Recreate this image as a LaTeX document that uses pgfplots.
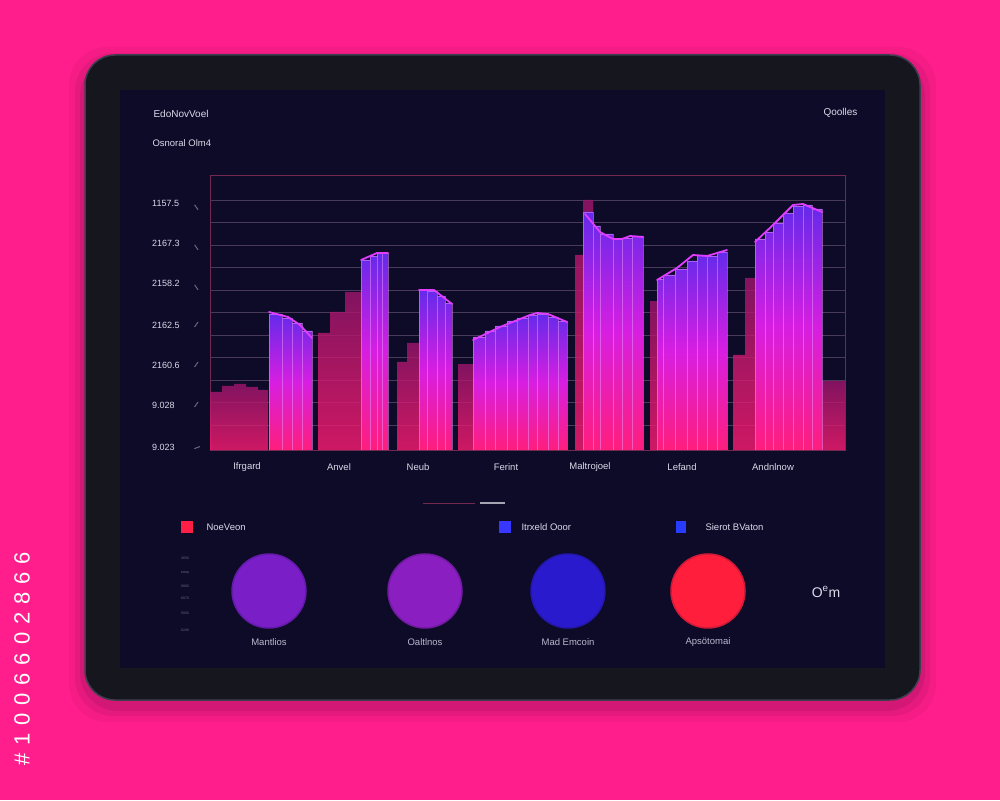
\documentclass[border=0pt]{standalone}
\usepackage{pgfplots}
\pgfplotsset{compat=1.18}
\usepackage{fontspec}
\setmainfont{Liberation Sans}
\usepackage{graphicx}

\definecolor{bgpink}{RGB}{255,30,140}
\definecolor{bezel}{RGB}{22,22,30}
\definecolor{bezeledge}{RGB}{62,62,78}
\definecolor{screen}{RGB}{13,11,40}
\definecolor{txt}{RGB}{218,218,234}
\definecolor{sub}{RGB}{185,185,205}
\definecolor{slash}{RGB}{105,105,130}
\definecolor{gridc}{RGB}{72,58,88}
\definecolor{framec}{RGB}{115,40,80}
\definecolor{barTop}{RGB}{100,42,235}
\definecolor{barMid}{RGB}{215,30,225}
\definecolor{barBot}{RGB}{255,30,125}
\definecolor{glowBot}{RGB}{255,28,115}
\definecolor{glowTop}{RGB}{160,22,110}
\definecolor{stripe}{RGB}{235,150,255}
\definecolor{edge}{RGB}{225,60,255}
\definecolor{legred}{RGB}{255,30,70}
\definecolor{legblue}{RGB}{55,55,255}
\definecolor{legblueb}{RGB}{40,60,255}
\definecolor{cA}{RGB}{122,30,200}
\definecolor{cB}{RGB}{138,30,192}
\definecolor{cC}{RGB}{42,26,205}
\definecolor{cD}{RGB}{255,30,60}

\newcommand{\yl}[2]{\makebox[42pt][l]{#1}\raisebox{1pt}{\textcolor{slash}{\rotatebox{#2}{\rule{6pt}{1pt}}}}}

\pgfplotsset{
  mainbar/.style={ybar interval, draw=stripe, draw opacity=0.5, line width=0.6pt,
    top color=barTop, bottom color=barBot, middle color=barMid},
  glowbar/.style={ybar interval, draw=none, top color=glowTop, bottom color=glowBot, fill opacity=0.8},
  topedge/.style={edge, line width=1.8pt, line join=round, line cap=round},
  dot/.style={only marks, mark=*, mark size=37pt, mark options={fill=#1, draw=#1!80!screen, line width=1.5pt}},
}

\begin{document}
\begin{tikzpicture}[x=1pt,y=1pt]
\useasboundingbox (0,0) rectangle (1000,800);
\clip (0,0) rectangle (1000,800);
\fill[bgpink] (0,0) rectangle (1000,800);

% tablet shadow and body
\foreach \d/\o in {16/0.04,10/0.06,5/0.08}
  \fill[black, opacity=\o, rounded corners=38] (85-\d,94-\d) rectangle (920+\d,745+\d-8);
\fill[bezel, draw=bezeledge, line width=1.5pt, rounded corners=30] (85,100) rectangle (920,745);
\fill[screen] (120,132) rectangle (885,710);

% header texts
\node[anchor=west, text=txt, font=\fontsize{10}{12}\selectfont] at (150,686) {EdoNovVoel};
\node[anchor=west, text=txt, font=\fontsize{9.5}{11}\selectfont] at (149,657) {Osnoral Olm4};
\node[anchor=east, text=txt, font=\fontsize{10}{12}\selectfont] at (861,687) {Qoolles};

% main chart
\begin{axis}[
  at={(210pt,350pt)}, anchor=south west,
  scale only axis, width=635pt, height=275pt,
  xmin=0, xmax=635, ymin=0, ymax=275,
  axis line style={framec, line width=0.7pt},
  tick style={draw=none},
  xtick={37,129,208,296,380,472,563},
  xticklabels={Ifrgard,Anvel,Neub,Ferint,Maltrojoel,Lefand,Andnlnow},
  ytick={3,45,85,125,165,205,245},
  yticklabels={\yl{9.023}{20},\yl{9.028}{55},\yl{2160.6}{55},\yl{2162.5}{55},\yl{2158.2}{-55},\yl{2167.3}{-55},\yl{1157.5}{-55}},
  ticklabel style={text=txt, font=\fontsize{9.5}{11}\selectfont},
  xticklabel style={anchor=center, yshift=-17pt},
  yticklabel style={anchor=west, inner sep=0pt, xshift=-58pt, font=\fontsize{9}{10}\selectfont},
  extra y ticks={25,47.5,70,92.5,115,137.5,160,182.5,205,227.5,250},
  extra y tick labels={},
  extra y tick style={grid=major, major grid style={gridc, line width=0.6pt}},
]
% glow (background) bars
\addplot[glowbar] coordinates {(0,58) (12,64) (24,66) (36,63) (48,60) (58,0)};
\addplot[glowbar] coordinates {(108,117) (120,138) (135,158) (151,0)};
\addplot[glowbar] coordinates {(187,88) (197,107) (209,0)};
\addplot[glowbar] coordinates {(248,85) (263,0)};
\addplot[glowbar] coordinates {(365,195) (373,250) (383,0)};
\addplot[glowbar] coordinates {(440,148) (447,0)};
\addplot[glowbar] coordinates {(523,95) (535,172) (545,0)};
\addplot[glowbar] coordinates {(612,68) (635,0)};
% main bars
\addplot[mainbar] coordinates {(59,136) (72,132) (82,127) (92,119) (102,0)};
\addplot[mainbar] coordinates {(151,190) (160,194) (167,197) (172,197) (178,0)};
\addplot[mainbar] coordinates {(209,160) (217,159) (227,154) (235,147) (242,0)};
\addplot[mainbar] coordinates {(263,113) (275,119) (285,124) (297,129) (307,132) (318,135) (327,136) (338,133) (348,129) (357,0)};
\addplot[mainbar] coordinates {(373,238) (383,224) (390,216) (403,211) (412,212) (422,214) (433,0)};
\addplot[mainbar] coordinates {(447,171) (453,175) (465,181) (477,189) (487,195) (497,194) (507,198) (517,0)};
\addplot[mainbar] coordinates {(545,211) (555,218) (563,227) (573,237) (583,244) (593,245) (602,241) (612,0)};
% top edges
\addplot[topedge] coordinates {(59,138) (78,133) (90,125) (102,112)};
\addplot[topedge] coordinates {(151,190) (167,197) (178,197)};
\addplot[topedge] coordinates {(209,160) (224,160) (242,146)};
\addplot[topedge] coordinates {(263,110) (290,123) (320,135) (327,137) (338,136) (357,128)};
\addplot[topedge] coordinates {(375,236) (390,218) (403,211) (412,211) (420,214) (433,213)};
\addplot[topedge] coordinates {(447,170) (467,182) (483,195) (497,194) (517,200)};
\addplot[topedge] coordinates {(545,208) (563,225) (583,245) (593,246) (612,238)};
\end{axis}

% divider
\draw[framec, line width=0.8pt] (423,297) -- (475,297);
\draw[slash!60!white, line width=1.6pt] (480,297) -- (505,297);

% legend row
\fill[legred] (181,267) rectangle (193,279);
\node[anchor=west, text=txt, font=\fontsize{9.5}{11}\selectfont] at (203,273) {NoeVeon};
\fill[legblue] (499,267) rectangle (511,279);
\node[anchor=west, text=txt, font=\fontsize{9.5}{11}\selectfont] at (518,273) {Itrxeld Ooor};
\fill[legblueb] (676,267) rectangle (686,279);
\node[anchor=west, text=txt, font=\fontsize{9.5}{11}\selectfont] at (702,273) {Sierot BVaton};

% circle row (x, y measured from the axis box corner)
\begin{axis}[
  at={(195pt,168pt)}, anchor=south west,
  scale only axis, width=690pt, height=87pt,
  xmin=0, xmax=690, ymin=0, ymax=87,
  axis line style={draw=none}, tick style={draw=none},
  clip=false,
  xtick={74,230,373,513},
  xticklabels={Mantlios,Oaltlnos,Mad Emcoin,Apsötomai},
  xticklabel style={anchor=center, yshift=-10pt, text=sub, font=\fontsize{9.5}{11}\selectfont},
  ytick={2,19,34,46,59,74},
  yticklabels={6240,5050,6070,8060,ewnp,2650},
  yticklabel style={anchor=center, xshift=-10pt, text=slash, font=\fontsize{3.5}{4}\selectfont},
]
\addplot[dot=cA] coordinates {(74,41)};
\addplot[dot=cB] coordinates {(230,41)};
\addplot[dot=cC] coordinates {(373,41)};
\addplot[dot=cD] coordinates {(513,41)};
\end{axis}

\node[text=txt, font=\fontsize{14}{16}\selectfont] at (826,208) {O\textsuperscript{e}m};

% side stock id
\node[rotate=90, text=white, font=\fontsize{22}{24}\selectfont\addfontfeature{LetterSpace=36}] at (22,141) {\#1006602866};
\end{tikzpicture}
\end{document}
